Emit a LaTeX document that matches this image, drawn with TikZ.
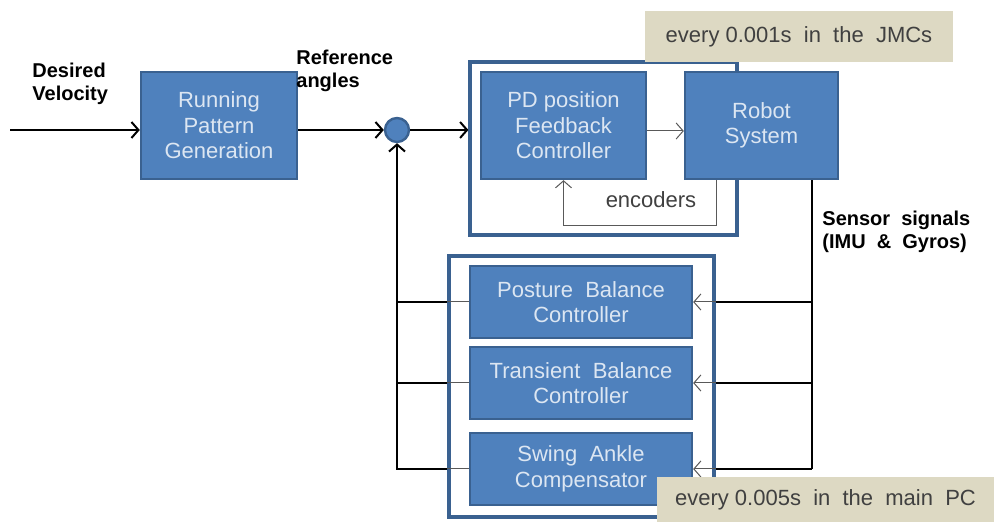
\documentclass[tikz,border=0pt]{standalone}
\usepackage{fontspec}
\setmainfont{Liberation Sans}
\usetikzlibrary{arrows.meta}
\definecolor{blockblue}{HTML}{4F81BD}
\definecolor{blockedge}{HTML}{3A6190}
\definecolor{blocktext}{HTML}{DCE6F2}
\definecolor{notetan}{HTML}{DDD9C3}
\definecolor{thingray}{HTML}{595959}
\tikzset{
  block/.style={draw=blockedge, line width=1.2pt, fill=blockblue, text=blocktext,
    align=center, inner sep=0pt, font=\fontsize{11}{12.75}\selectfont},
  frame/.style={draw=blockedge, line width=1.6pt, fill=white, inner sep=0pt},
  note/.style={fill=notetan, text=black!75, inner sep=0pt,
    font=\fontsize{11}{13}\selectfont},
  tag/.style={font=\bfseries\fontsize{10}{11.5}\selectfont, align=left, inner sep=0pt},
  bus/.style={line width=1pt, black},
  sig/.style={line width=0.5pt, thingray},
  tip/.style={-{Straight Barb[length=3.5pt,width=8pt]}}
}
\begin{document}
\begin{tikzpicture}[x=0.5pt, y=-0.5pt]
  \useasboundingbox (0,0) rectangle (994,522);

  % fast loop in the JMCs
  \node[frame, minimum width=133.5pt, minimum height=86.5pt] (jmc) at (603.5,148.5) {};
  \node[block, minimum width=82.5pt, minimum height=53.5pt] (pd) at (563.5,125.5)
    {PD position\\Feedback\\Controller};
  \node[block, minimum width=76.5pt, minimum height=53.5pt] (robot) at (761.5,125.5)
    {Robot\\System};
  \node[note, minimum width=154pt, minimum height=25.5pt] (note1) at (799,36.5)
    {every 0.001s~ in~ the~ JMCs};

  % slow loop in the main PC
  \node[frame, minimum width=132.5pt, minimum height=130.5pt] (mainpc) at (581.5,386.5) {};
  \node[block, minimum width=111pt, minimum height=36pt] (posture) at (581,302)
    {Posture~ Balance\\Controller};
  \node[block, minimum width=111pt, minimum height=36pt] (transient) at (581,383)
    {Transient~ Balance\\Controller};
  \node[block, minimum width=111pt, minimum height=36pt] (swing) at (581,469)
    {Swing~ Ankle\\Compensator};

  \node[block, minimum width=78pt, minimum height=53.5pt] (run) at (219,125.5)
    {Running\\Pattern\\Generation};
  \node[circle, fill=blockblue, draw=blockedge, line width=1.2pt, minimum size=12pt,
    inner sep=0pt] (sum) at (397,130) {};

  \node[tag, anchor=west] (desired) at (32,84) {Desired\\Velocity};
  \node[tag, anchor=west] (refang) at (296,71) {Reference\\angles};
  \node[tag, anchor=west] (sensor) at (822,232) {Sensor~ signals\\(IMU~ \&~ Gyros)};
  \node[text=black!75, font=\fontsize{11}{13}\selectfont, inner sep=0pt] (enc)
    at (651,200) {encoders};

  \coordinate (in) at (10,130);
  \coordinate (tap) at (812,469);

  \draw[bus, tip] (in) -- (in -| run.west);
  \draw[bus, tip] (run.east |- sum) -- (sum);
  \draw[bus, tip] (sum) -- (jmc.west |- sum);
  \draw[sig, tip] (pd.east |- 0,131) -- (robot.west |- 0,131);
  \draw[sig, tip] ([xshift=16.5pt]robot.south west) -- ++(0,45) -| (pd.south);
  \draw[bus] (robot.south -| tap) -- (tap);

  \foreach \ctrl in {posture, transient, swing} {
    \draw[bus] (tap |- \ctrl.east) -- (mainpc.east |- \ctrl.east);
    \draw[sig, tip] (mainpc.east |- \ctrl.east) -- (\ctrl.east);
    \draw[sig] (\ctrl.west) -- (mainpc.west |- \ctrl.west);
  }
  \draw[bus] (mainpc.west |- posture.west) -- (posture.west -| sum);
  \draw[bus] (mainpc.west |- transient.west) -- (transient.west -| sum);
  \draw[bus, tip] (mainpc.west |- swing.west) -| (sum); %feedback to the sum

  \node[note, minimum width=168.5pt, minimum height=22.5pt] (note2) at (825.5,499.5)
    {every 0.005s~ in~ the~ main~ PC};

\end{tikzpicture}
\end{document}
